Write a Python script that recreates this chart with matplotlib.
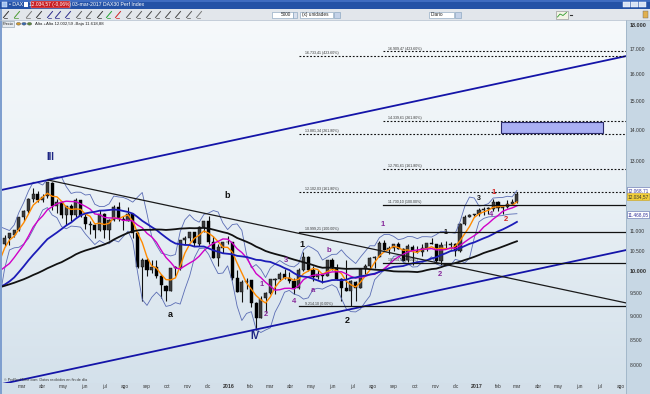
import numpy as np
import pandas as pd
import matplotlib
matplotlib.use("Agg")
import matplotlib.pyplot as plt
import matplotlib.dates as mdates
from matplotlib.patches import Rectangle, Circle
from matplotlib.lines import Line2D
from matplotlib.colors import LinearSegmentedColormap
from matplotlib.transforms import blended_transform_factory

plt.rcParams['font.family'] = ['Liberation Sans', 'DejaVu Sans']

# ---------------- DATA ----------------
# weekly closes before the visible window (only used to warm up the moving averages)
pre_start = "2014-04-25"
pre_close = [9401, 9556, 9581, 9630, 9768, 9943, 9987, 9912, 9987, 9815, 10009, 9666, 9720, 9644,
             9210, 9010, 9092, 9339, 9470, 9747, 9651, 9799, 9490, 9195, 8812, 8850, 8988, 9326,
             9291, 9252, 9732, 9980, 10087, 9594, 9786, 9923, 9764, 9648, 10168, 10649, 10694]

# weekly OHLC (week ending Friday) 2015-02-06 .. 2017-03-03
week_start = "2015-02-06"
opens = [10700, 10830, 10930, 11060, 11400, 11560, 11910, 12050, 11870, 11970, 12370, 11700, 11810, 11450,
         11700, 11450, 11860, 11400, 11190, 11190, 11040, 11490, 11050, 11320, 11670, 11350, 11300, 11490,
         10980, 10120, 10290, 10040, 10120, 9910, 9680, 9560, 10100, 10100, 10790, 10850, 10990, 10700,
         11120, 11290, 10750, 10340, 10600,
         10730, 10740, 9850, 9540, 9760, 9800, 9280, 8970, 9390, 9510, 9820, 9830, 9950, 9850, 9790, 9620,
         10050, 10370, 10040, 9870, 9950, 9910, 10290, 10100, 9830, 9630, 9550, 9770, 9630, 10060, 10150,
         10330, 10370, 10710, 10540, 10590, 10680, 10570, 10280, 10620, 10510, 10490, 10580, 10710, 10690,
         10260, 10670, 10660, 10690, 10510, 11200, 11400, 11450,
         11480, 11600, 11630, 11630, 11810, 11650, 11670, 11760, 11800]
highs = [10912, 10963, 11060, 11410, 11580, 11920, 12220, 12120, 12030, 12391, 12380, 11900, 11850, 11710,
         11750, 11920, 11880, 11520, 11300, 11200, 11590, 11500, 11350, 11720, 11800, 11420, 11670, 11500,
         11000, 10340, 10350, 10280, 10300, 9950, 9700, 10100, 10150, 10800, 10900, 11000, 11000, 11150,
         11300, 11430, 10900, 10700, 10750,
         10900, 10750, 10050, 9800, 9850, 9800, 9300, 9450, 9540, 9840, 9850, 10000, 10060, 10000, 9850,
         10090, 10490, 10400, 10150, 10050, 9970, 10290, 10330, 10200, 9850, 10300, 9800, 9780, 10100, 10180,
         10360, 10380, 10760, 10800, 10630, 10700, 10750, 10580, 10680, 10660, 10640, 10680, 10720, 10830,
         10700, 10730, 10770, 10740, 10710, 11230, 11450, 11480, 11490,
         11640, 11660, 11670, 11890, 11830, 11690, 11860, 11900, 12090]
lows = [10640, 10660, 10860, 11030, 11280, 11500, 11800, 11800, 11800, 11930, 11600, 11500, 11380, 11180,
        11300, 11400, 11400, 11090, 10950, 10830, 11020, 10850, 10800, 11300, 11300, 11050, 11280, 10850,
        10100, 9338, 9900, 9980, 9850, 9400, 9325, 9550, 9900, 10050, 10700, 10760, 10650, 10650,
        11000, 10700, 10340, 10140, 10450,
        10690, 9800, 9540, 9310, 9600, 9200, 8700, 8960, 9100, 9480, 9490, 9790, 9830, 9750, 9480,
        9600, 10030, 10030, 9780, 9840, 9730, 9900, 10050, 9800, 9330, 9550, 9214, 9340, 9620, 9960,
        10100, 10100, 10360, 10540, 10440, 10520, 10550, 10260, 10250, 10170, 10450, 10400, 10500, 10680,
        10230, 10174, 10570, 10570, 10400, 10480, 11180, 11400, 11420,
        11430, 11460, 11490, 11560, 11570, 11470, 11640, 11740, 11790]
closes = [10846, 10963, 11051, 11402, 11550, 11901, 12040, 11868, 11967, 12375, 11689, 11811, 11454, 11709,
          11447, 11865, 11414, 11197, 11197, 11041, 11492, 11059, 11316, 11673, 11347, 11308, 11490, 10985,
          10124, 10298, 10038, 10123, 9916, 9688, 9553, 10096, 10104, 10795, 10850, 10988, 10708, 11119,
          11293, 10752, 10340, 10608, 10728,
          10743, 9849, 9545, 9764, 9798, 9286, 8967, 9388, 9513, 9824, 9831, 9950, 9851, 9795, 9622,
          10051, 10373, 10039, 9870, 9952, 9916, 10287, 10103, 9834, 9631, 9557, 9776, 9630, 10067, 10147,
          10337, 10367, 10713, 10544, 10588, 10684, 10573, 10276, 10627, 10511, 10490, 10580, 10711, 10696,
          10259, 10668, 10664, 10699, 10513, 11203, 11404, 11450, 11481,
          11599, 11629, 11630, 11815, 11651, 11666, 11757, 11804, 12034.57]
last_high = 12068.71
ref_level = 11468.05

# moving-average lengths in weeks (~20 / 50 / 100 / 200 sessions)
ma_weeks = [4, 10, 20, 40]
ma_colors = ["#ff8a00", "#d000c8", "#1c1cb8", "#111111"]
ma_widths = [1.0, 1.0, 1.3, 1.3]

# trend lines (date, price)
chan_dates = ["2015-01-31", "2017-08-09"]
chan_upper = [12160, 16720]
chan_lower = [7659, 10535]
down_dates = ["2015-04-09", "2017-08-09"]
down_prices = [12447, 9290]

# fibonacci extension tools
fib1_start = "2016-04-14"
fib1_levels = [9214.1, 10999.21, 12102.03, 13881.34, 16733.41]
fib2_start = "2016-08-15"
fib2_levels = [10214.1, 11730.1, 12781.61, 14339.61, 16909.47]
fib_pcts = ["0.00%", "100.00%", "161.80%", "261.80%", "423.60%"]

box_dates = ["2017-02-06", "2017-07-06"]
box_prices = [13909, 14296]

wave_text = ["III", "a", "b", "IV", "1", "2",
             "1", "2", "3", "4", "a", "b", "1", "2", "4",
             "1", "3", "1", "2"]
wave_dates = ["2015-04-13", "2015-10-06", "2015-12-29", "2016-02-08", "2016-04-18", "2016-06-23",
              "2016-02-19", "2016-02-25", "2016-03-25", "2016-04-06", "2016-05-04", "2016-05-28",
              "2016-08-15", "2016-11-07", "2017-01-22",
              "2016-11-15", "2017-01-04", "2017-01-26", "2017-02-13"]
wave_prices = [13145, 9029, 11989, 8587, 10681, 8901,
               9711, 9029, 10282, 9327, 9574, 10530, 11203, 9945, 11458,
               10992, 11904, 12074, 11323]
wave_kind = ["big", "blk", "blk", "big", "blk", "blk",
             "pur", "pur", "pur", "pur", "pur", "pur", "pur", "pur", "pur",
             "sml", "sml", "red", "red"]

price_ticks = [8000, 8500, 9000, 9500, 10000, 10500, 11000, 13000, 14000, 15000, 16000, 17000, 18000]
bold_ticks = [10000, 18000]

month_labels = ["mar", "abr", "may", "jun", "jul", "ago", "sep", "oct", "nov", "dic",
                "2016", "feb", "mar", "abr", "may", "jun", "jul", "ago", "sep", "oct", "nov", "dic",
                "2017", "feb", "mar", "abr", "may", "jun", "jul", "ago"]
month_first = "2015-03-01"

x_range = ["2015-01-31", "2017-08-09"]
y_range = [7677, 18221]


def fmt_es(v, nd=2):
    s = f"{v:,.{nd}f}"
    return s.replace(",", "X").replace(".", ",").replace("X", ".")


# ---------------- FIGURE ----------------
W, H = 650, 394
fig = plt.figure(figsize=(6.5, 3.94), dpi=100)
fig.patch.set_facecolor("#d3dfe9")


def R(x, y, w, h, z=5, **kw):
    fig.patches.append(Rectangle((x / W, 1 - (y + h) / H), w / W, h / H,
                                 transform=fig.transFigure, zorder=z, **kw))


def T(x, y, s, z=6, **kw):
    kw.setdefault("va", "center")
    fig.text(x / W, 1 - y / H, s, zorder=z, **kw)


def L(xs, ys, z=6, **kw):
    fig.lines.append(Line2D([x / W for x in xs], [1 - y / H for y in ys],
                            transform=fig.transFigure, zorder=z, **kw))


rect = [2 / W, 1 - 383 / H, 624 / W, 363 / H]
bg = fig.add_axes(rect, zorder=0)
grad = np.linspace(0, 1, 256).reshape(-1, 1)
cmap = LinearSegmentedColormap.from_list("bg", ["#f6f9fb", "#e9f0f5", "#d4e1eb"])
bg.imshow(grad, aspect="auto", cmap=cmap, extent=[0, 1, 0, 1])
bg.axis("off")

ax = fig.add_axes(rect, zorder=1)
ax.patch.set_alpha(0)
ax.set_yscale("log")
xl = mdates.date2num(pd.to_datetime(x_range))
ax.set_xlim(xl[0], xl[1])
ax.set_ylim(*y_range)
ax.set_xticks([])
ax.set_yticks([])
ax.minorticks_off()
for s in ax.spines.values():
    s.set_visible(False)

# ---- candles ----
wk = pd.date_range(week_start, periods=len(closes), freq="7D")
xc = mdates.date2num(wk) - 2.0
o, h, l, c = map(np.asarray, (opens, highs, lows, closes))
ax.vlines(xc, l, h, color="#111111", lw=0.8, zorder=2)
bot = np.minimum(o, c)
hgt = np.maximum(np.abs(c - o), 8)
ax.bar(xc, hgt, bottom=bot, width=4.6, color=np.where(c >= o, "#3c3c3c", "#000000"),
       edgecolor="#000000", lw=0.3, zorder=2)

# ---- moving averages & bollinger ----
pre_x = mdates.date2num(pd.date_range(pre_start, periods=len(pre_close), freq="7D")) - 2.0
all_x = np.concatenate([pre_x, xc])
all_c = pd.Series(list(pre_close) + list(closes), dtype=float)
all_h = np.array(list(pre_close) + list(highs), dtype=float)
all_l = np.array(list(pre_close) + list(lows), dtype=float)
i0 = len(pre_close) - 1

mid = all_c.rolling(4).mean().values
sd = np.full(len(all_c), np.nan)
hlc = np.vstack([all_h, all_l, all_c.values])
for i in range(3, len(all_c)):
    sd[i] = hlc[:, i - 3:i + 1].std()
ax.plot(all_x[i0:], (mid + 2 * sd)[i0:], color="#5a6cb4", lw=0.6, zorder=3)
ax.plot(all_x[i0:], (mid - 2 * sd)[i0:], color="#5a6cb4", lw=0.6, zorder=3)

for n, col, lw in zip(ma_weeks, ma_colors, ma_widths):
    ma = all_c.rolling(n).mean().values
    ax.plot(all_x[i0:], ma[i0:], color=col, lw=lw, zorder=4)

# ---- trend lines ----
cd = mdates.date2num(pd.to_datetime(chan_dates))
ax.plot(cd, chan_upper, color="#1414a8", lw=1.3, zorder=5)
ax.plot(cd, chan_lower, color="#1414a8", lw=1.3, zorder=5)
dd = mdates.date2num(pd.to_datetime(down_dates))
ax.plot(dd, down_prices, color="#1a1a1a", lw=0.9, zorder=5)

# ---- fibonacci levels ----
for start, levels in ((fib1_start, fib1_levels), (fib2_start, fib2_levels)):
    xs = mdates.date2num(pd.Timestamp(start))
    for lev, pct in zip(levels, fib_pcts):
        solid = pct in ("0.00%", "100.00%")
        ax.plot([xs, xl[1]], [lev, lev], color="#111111", lw=0.9 if solid else 0.8,
                ls="-" if solid else (0, (1.6, 1.6)), zorder=5)
        ax.text(xs + 8, lev * 1.002, f"{fmt_es(lev)} ({pct})", fontsize=2.6,
                color="#333333", ha="left", va="bottom", zorder=6)

# ---- target box ----
bd = mdates.date2num(pd.to_datetime(box_dates))
ax.add_patch(Rectangle((bd[0], box_prices[0]), bd[1] - bd[0], box_prices[1] - box_prices[0],
                       facecolor="#aab0f4", edgecolor="#2a2a6a", lw=0.8, zorder=5))

# ---- wave labels ----
styles = {"big": dict(color="#1c2583", fontsize=7),
          "blk": dict(color="#111111", fontsize=6.5),
          "pur": dict(color="#86289a", fontsize=5.5),
          "sml": dict(color="#111111", fontsize=5),
          "red": dict(color="#d42020", fontsize=5.5)}
for t, d, p, k in zip(wave_text, wave_dates, wave_prices, wave_kind):
    ax.text(mdates.date2num(pd.Timestamp(d)), p, t, ha="center", va="center",
            fontweight="bold", zorder=7, **styles[k])

# ---- right price axis ----
R(626, 20, 24, 374, z=0.5, facecolor="#c7d7e4", edgecolor="none")
L([626, 626], [20, 394], z=0.6, color="#9db2c6", lw=0.6)
ty = blended_transform_factory(ax.transAxes, ax.transData)
xlab = (630 - 2) / 624
for v in price_ticks:
    b = v in bold_ticks
    ax.text(xlab, v, fmt_es(v, 0).replace(",", ""), transform=ty, fontsize=4 if b else 3.6,
            fontweight="bold" if b else "normal", color="#333333", ha="left", va="center")
box_kw = dict(boxstyle="square,pad=0.15", lw=0.4)
ax.text(xlab - 0.004, last_high, fmt_es(last_high), transform=ty, fontsize=3.4, color="#333399",
        ha="left", va="bottom", bbox=dict(facecolor="white", edgecolor="#5566aa", **box_kw))
ax.text(xlab - 0.004, closes[-1], fmt_es(closes[-1]), transform=ty, fontsize=3.4, color="#333333",
        ha="left", va="top", bbox=dict(facecolor="#f2cf3a", edgecolor="#c8a020", **box_kw))
ax.text(xlab - 0.004, ref_level, fmt_es(ref_level), transform=ty, fontsize=3.4, color="#333399",
        ha="left", va="center", bbox=dict(facecolor="white", edgecolor="#5566aa", **box_kw))

# ---- month labels ----
tx = blended_transform_factory(ax.transData, ax.transAxes)
mdts = mdates.date2num(pd.date_range(month_first, periods=len(month_labels), freq="MS"))
for d, s in zip(mdts, month_labels):
    yr = s.isdigit()
    ax.text(d, -0.0105, s, transform=tx, fontsize=3.8 if yr else 3.4,
            fontweight="bold" if yr else "normal", color="#333333", ha="center", va="center")

# ---------------- window chrome ----------------
R(0, 0, 650, 9, facecolor="#2452a6", edgecolor="none")
R(0, 0, 650, 2, facecolor="#3f6cc0", edgecolor="none")
R(2, 2, 5, 5, facecolor="#9fc0f0", edgecolor="#ffffff", lw=0.3)
T(9, 4.6, "\u2022 DAX", color="white", fontsize=3.8)
R(24, 2.2, 4, 4.5, facecolor="white", edgecolor="none")
R(31, 1.3, 39, 6.4, facecolor="#c81d22", edgecolor="#f0b0b0", lw=0.3)
T(50.5, 4.6, fmt_es(closes[-1]) + " (-0,06%)", color="white", fontsize=3.5, ha="center")
T(72, 4.6, "03-mar-2017 DAX30 Perf Index", color="white", fontsize=3.7)
for bx in (623, 631, 639):
    R(bx, 2, 7, 5, facecolor="#d7e2f4", edgecolor="#ffffff", lw=0.3)

R(0, 9, 650, 11, facecolor="#e2e6eb", edgecolor="none")
L([0, 650], [19.6, 19.6], color="#b0bccb", lw=0.5)
icon_x = [6, 17, 29, 39, 50, 58, 68, 79, 89, 100, 109, 118, 129, 139, 149, 158, 168, 178, 189, 199]
icon_c = ["#333333", "#4a9a30", "#777777", "#333333", "#2a2a8a", "#2a2a8a", "#2a2a8a", "#555555",
          "#555555", "#333333", "#20a030", "#d02020", "#555555", "#555555", "#444444", "#555555",
          "#444444", "#444444", "#555555", "#777777"]
for ix, ic in zip(icon_x, icon_c):
    L([ix - 2.5, ix + 2.5], [17.5, 11.5], color=ic, lw=0.7)
    L([ix - 2.5, ix + 1], [17.5, 17.5], color=ic, lw=0.5)
R(272, 11.5, 21, 6.5, facecolor="white", edgecolor="#7f9db9", lw=0.4)
T(291.5, 14.8, "5000", fontsize=3.4, ha="right", color="#222222")
R(293, 11.5, 4, 6.5, facecolor="#d8dfec", edgecolor="#7f9db9", lw=0.4)
R(300, 11.5, 33, 6.5, facecolor="white", edgecolor="#7f9db9", lw=0.4)
T(302, 14.8, "(x) unidades", fontsize=3.4, color="#222222")
R(334, 11.5, 6, 6.5, facecolor="#c4d2e8", edgecolor="#7f9db9", lw=0.4)
R(429, 11.5, 25, 6.5, facecolor="white", edgecolor="#7f9db9", lw=0.4)
T(431, 14.8, "Diario", fontsize=3.4, color="#222222")
R(455, 11.5, 6, 6.5, facecolor="#c4d2e8", edgecolor="#7f9db9", lw=0.4)
R(556, 10.8, 12, 8, facecolor="#f3f3e6", edgecolor="#8a8a8a", lw=0.4)
L([557.5, 560, 563, 566.5], [17, 14, 15.5, 12.5], color="#2a9a2a", lw=0.6)
L([570, 572], [15, 15], color="#333333", lw=0.8)
R(643, 11, 5, 7, facecolor="#e0b050", edgecolor="#666666", lw=0.3)

# info row
R(2, 20.8, 12, 6, facecolor="#e6ebf0", edgecolor="#8899aa", lw=0.4)
T(8, 23.8, "Precio", fontsize=2.8, ha="center", color="#222222")
for cx, cc in ((18.5, "#d09a30"), (24, "#3a6ab0"), (29.5, "#5a8a3a")):
    fig.patches.append(Circle((cx / W, 1 - 23.8 / H), 2.2 / W, transform=fig.transFigure,
                              facecolor=cc, edgecolor="#555555", lw=0.3, zorder=5))
T(35, 23.8, "Alta +Alta 12.002,59 -Baja 11.618,88", fontsize=3.1, color="#222222")

# left window border & footer
R(0, 9, 1.6, 385, facecolor="#7f9fcf", edgecolor="none")
T(4, 380, "\u00a9 ProRealTime.com  Datos recibidos en fin de d\u00eda", fontsize=2.7, color="#333333")

fig.savefig("out.png", dpi=100, facecolor=fig.get_facecolor())
